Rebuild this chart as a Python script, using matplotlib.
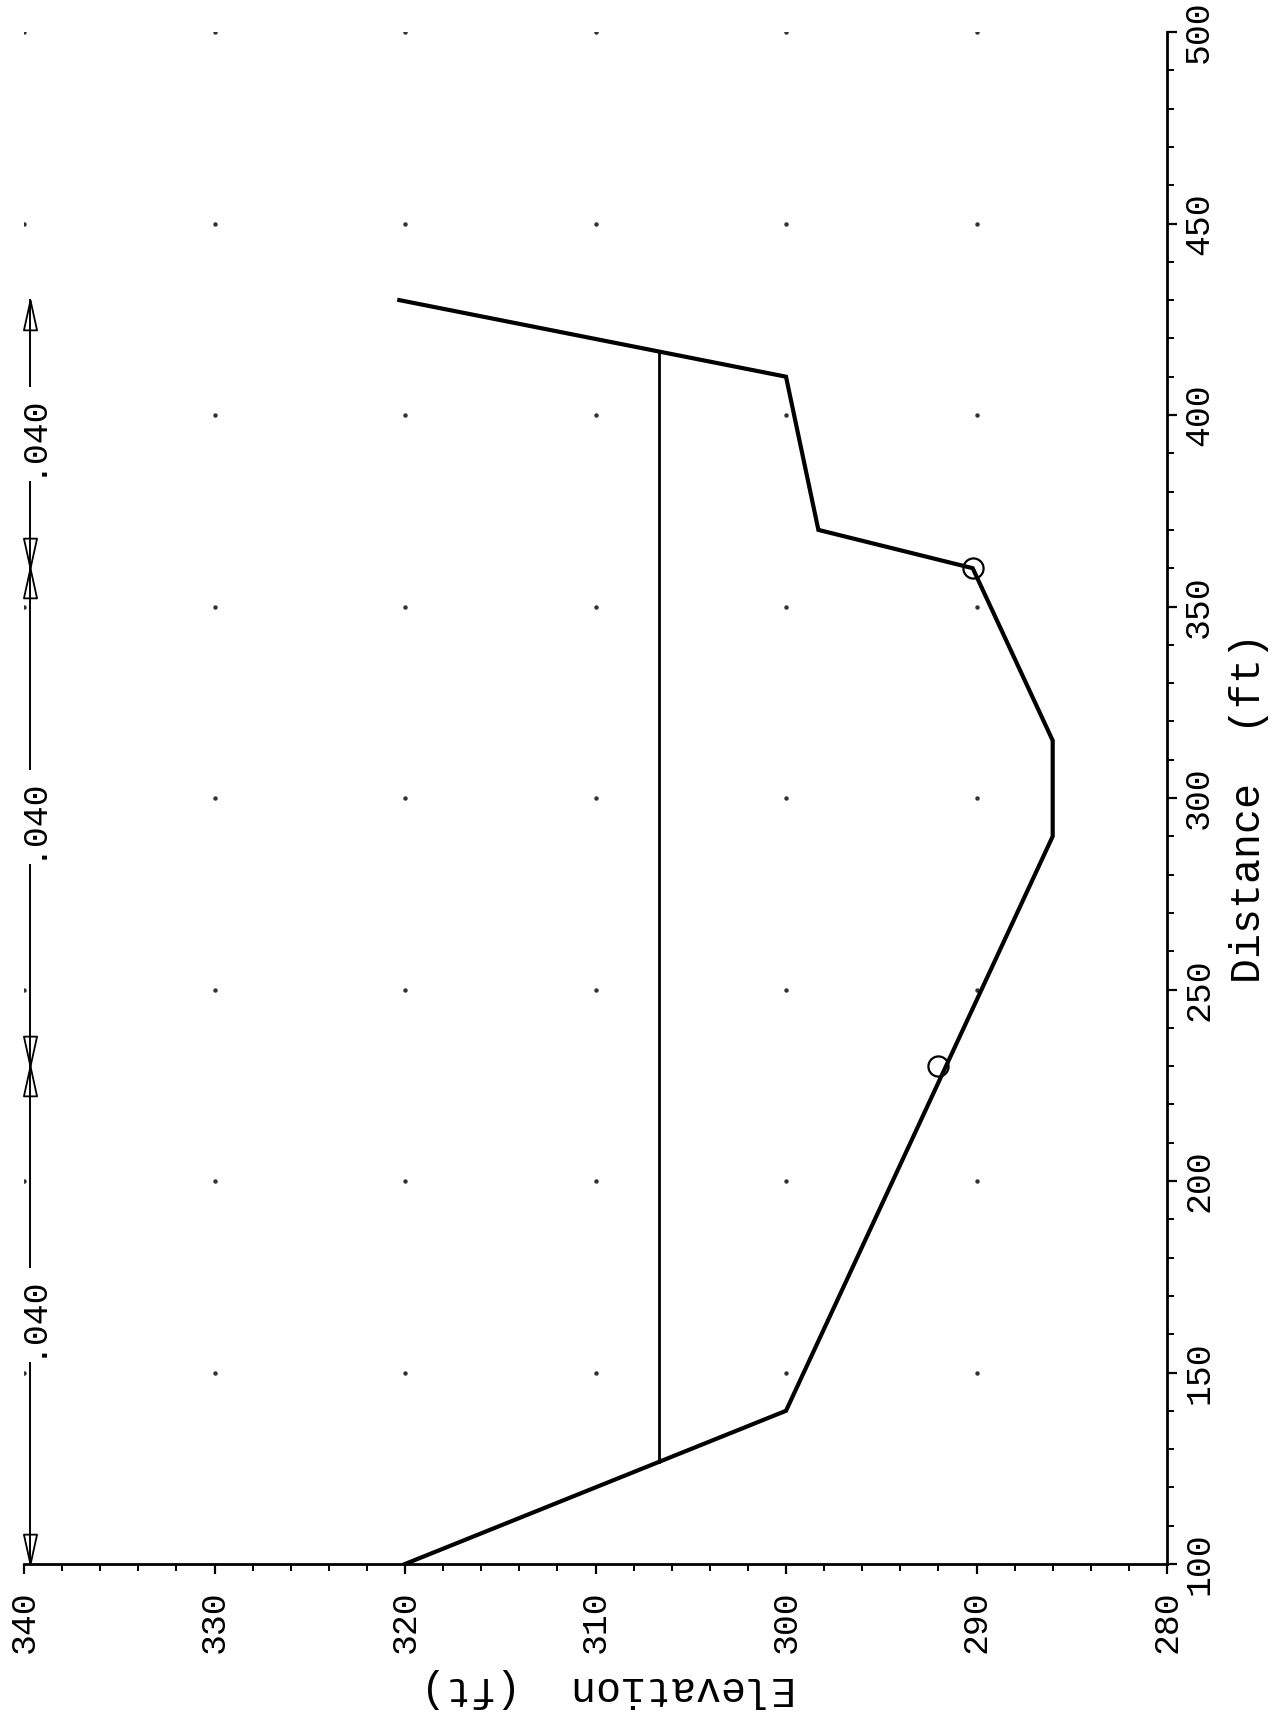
import numpy as np
import matplotlib
matplotlib.use('Agg')
import matplotlib.pyplot as plt
from matplotlib.ticker import MultipleLocator

plt.rcParams['font.family'] = ['Liberation Mono', 'DejaVu Sans Mono']

# ground profile (distance, elevation)
ground_dist = [100, 140, 290, 315, 360, 370, 410, 430]
ground_elev = [320, 300, 286, 286, 290.2, 298.3, 300, 320.3]

# water surface
ws_dist = [126.7, 416.7]
ws_elev = [306.67, 306.67]

# bank stations (circles)
bank_dist = [230, 360]
bank_elev = [292.0, 290.2]

# Manning's n segments
n_stations = [100, 230, 360, 430]
n_values = ['.040', '.040', '.040']
n_elev = 339.7

# grid dots
dot_elev = [340, 330, 320, 310, 300, 290]
dot_dist = [150, 200, 250, 300, 350, 400, 450, 500]

W, H = 1274, 1718
fig = plt.figure(figsize=(W / 100, H / 100), dpi=100)
x0, x1 = 24, 1167     # pixel of elev 340 / 280
y0, y1 = 1564, 32     # pixel of dist 100 / 500
ax = fig.add_axes([x0 / W, 1 - y0 / H, (x1 - x0) / W, (y0 - y1) / H])

ax.set_xlim(340, 280)
ax.set_ylim(100, 500)

# dots
ex, dy = np.meshgrid(dot_elev, dot_dist)
ax.plot(ex.ravel(), dy.ravel(), ls='none', marker='o', ms=2.2, color='#333333', zorder=1)

# ground and water
ax.plot(ground_elev, ground_dist, color='black', lw=3.0, solid_joinstyle='miter', zorder=3)
ax.plot(ws_elev, ws_dist, color='black', lw=2.0, zorder=3)
ax.plot(bank_elev, bank_dist, ls='none', marker='o', ms=14.5, mfc='none', mec='black', mew=1.6, zorder=4)

# roughness line with arrow heads (tip of marker sits on the station)
head_up = [(0, 0), (-0.22, -1), (0.22, -1), (0, 0)]
head_down = [(0, 0), (-0.22, 1), (0.22, 1), (0, 0)]
ax.plot([n_elev, n_elev], [n_stations[0], n_stations[-1]], color='black', lw=1.4, zorder=2)
ax.plot([n_elev] * (len(n_stations) - 1), n_stations[1:], ls='none', marker=head_up,
        ms=43, mfc='none', mec='black', mew=1.3, zorder=2, clip_on=False)
ax.plot([n_elev] * (len(n_stations) - 1), n_stations[:-1], ls='none', marker=head_down,
        ms=43, mfc='none', mec='black', mew=1.3, zorder=2, clip_on=False)
for i, val in enumerate(n_values):
    mid = (n_stations[i] + n_stations[i + 1]) / 2
    ax.text(n_elev, mid, val, rotation=90, ha='center', va='center', fontsize=25,
            bbox=dict(fc='white', ec='none', pad=4), zorder=5)

# axes styling
for s in ['left', 'top']:
    ax.spines[s].set_visible(False)
for s in ['bottom', 'right']:
    ax.spines[s].set_linewidth(2.0)
ax.yaxis.tick_right()
ax.xaxis.set_major_locator(MultipleLocator(10))
ax.xaxis.set_minor_locator(MultipleLocator(2))
ax.yaxis.set_major_locator(MultipleLocator(50))
ax.yaxis.set_minor_locator(MultipleLocator(10))
ax.tick_params(which='major', direction='out', length=7, width=1.6, labelsize=25)
ax.tick_params(which='minor', direction='out', length=5, width=1.4)
ax.tick_params(axis='x', which='major', labelrotation=90, pad=12)
ax.tick_params(axis='y', which='major', labelrotation=90, pad=4)
for lab in ax.get_yticklabels():
    lab.set_va('center')

ax.set_xlabel('Elevation  (ft)', rotation=180, fontsize=30, va='center', ha='center')
ax.xaxis.set_label_coords(0.511, -0.081)
ax.yaxis.set_label_position('right')
ax.set_ylabel('Distance  (ft)', rotation=90, fontsize=30, va='center', ha='center')
ax.yaxis.set_label_coords(1.072, 0.4935)

fig.savefig('out.png', dpi=100)
